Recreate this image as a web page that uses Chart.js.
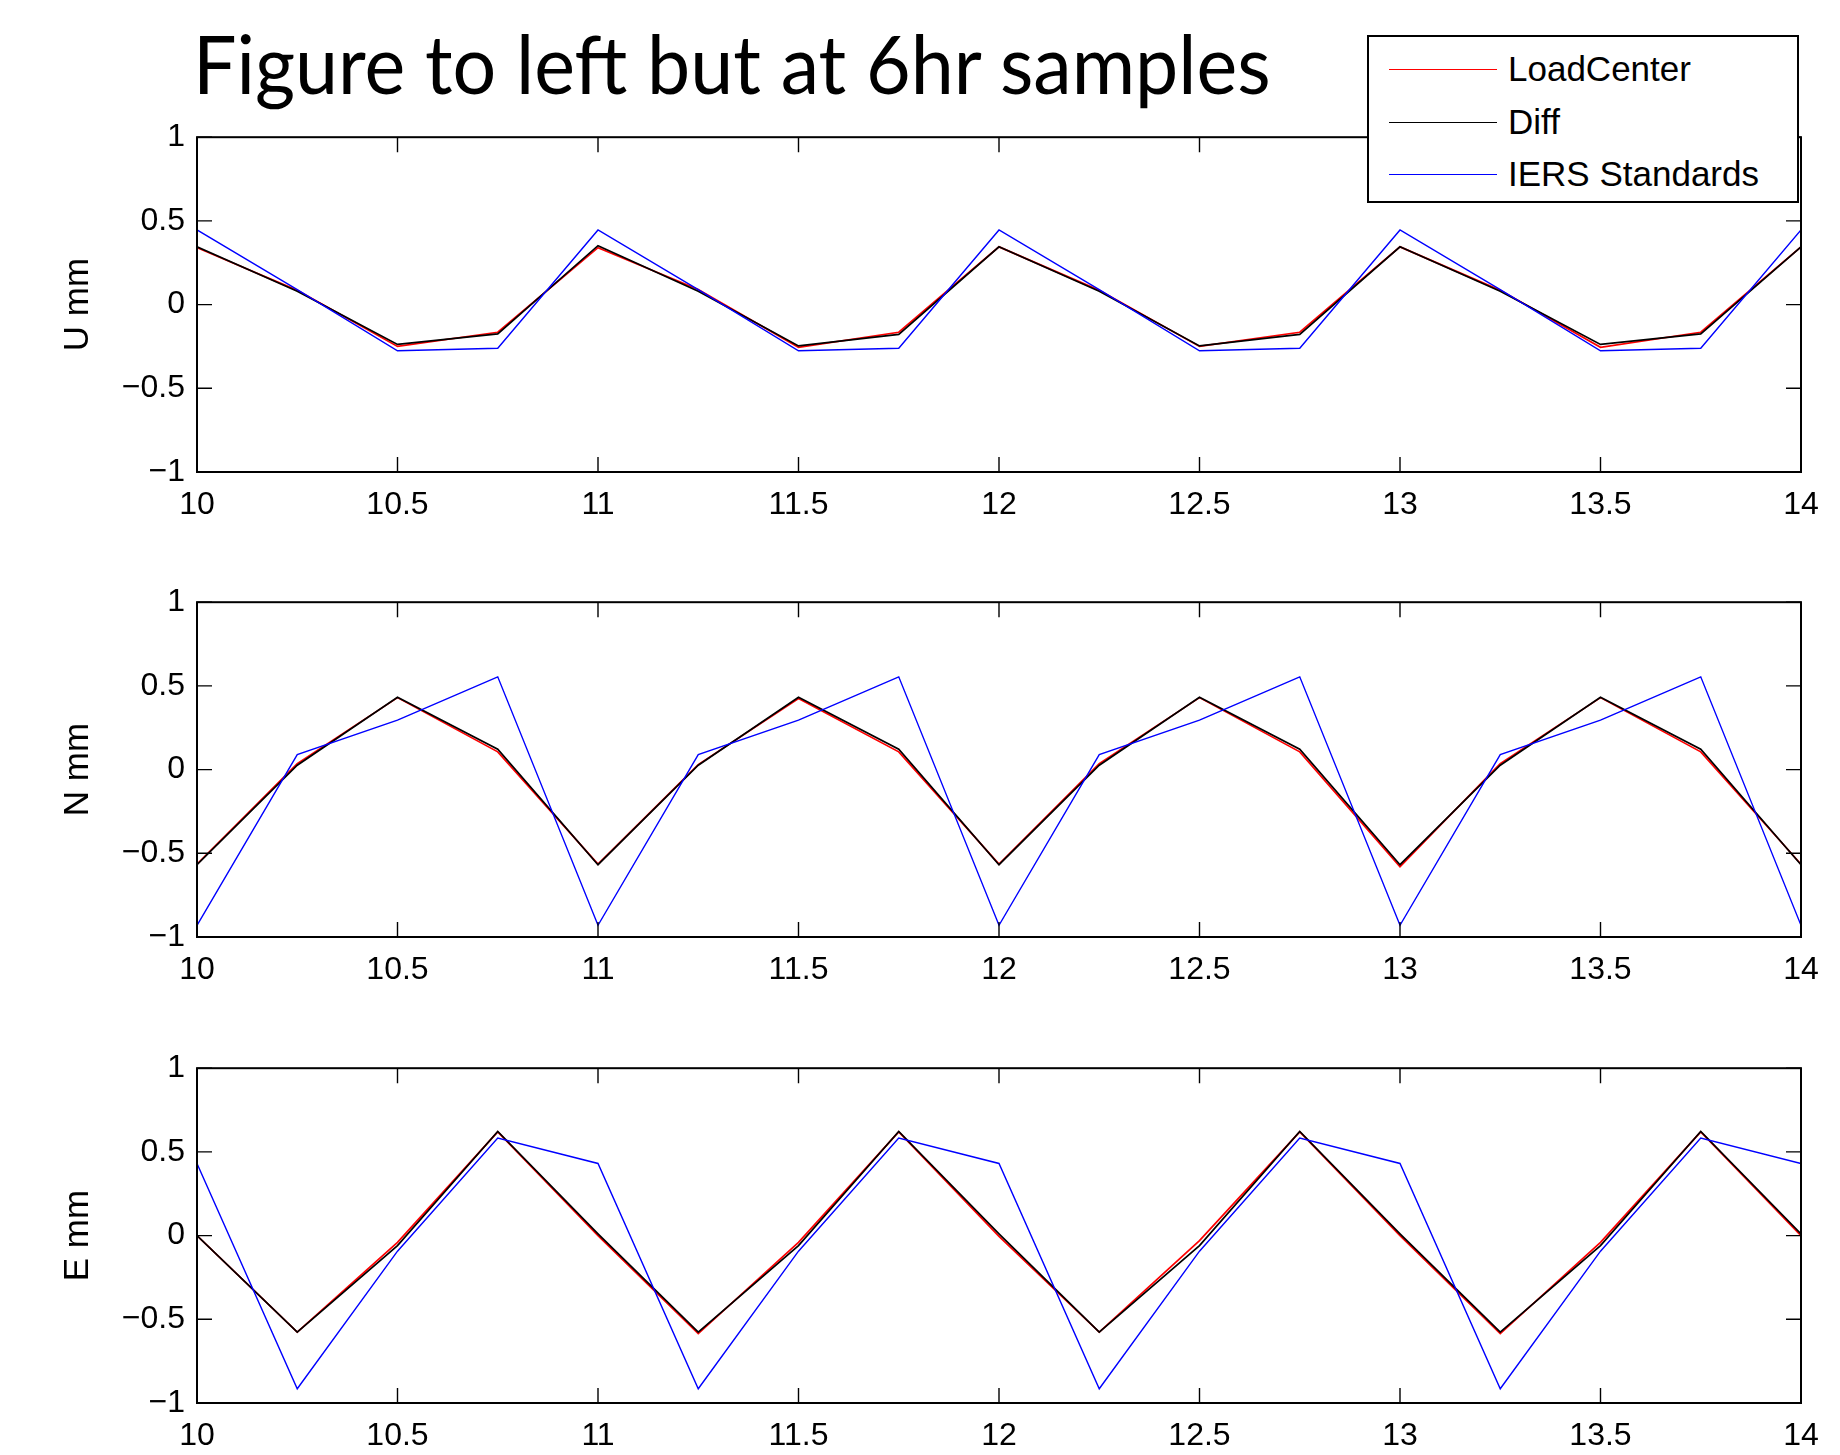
<!DOCTYPE html>
<html>
<head>
<meta charset="utf-8">
<script src="https://cdn.jsdelivr.net/npm/chart.js@4.4.1/dist/chart.umd.min.js"></script>
<style>
  html, body { margin: 0; padding: 0; background: #fff; }
  body { width: 1840px; height: 1455px; position: relative; overflow: hidden; }
  canvas { position: absolute; left: 0; }
  #title { position: absolute; left: 193px; top: 21px; font-family: Lato, "Open Sans", sans-serif; font-size: 82px; line-height: 82px; white-space: nowrap; transform-origin: 0 0; color: #000; }
  #legend { position: absolute; left: 1367px; top: 35px; width: 428px; height: 164px; border: 2px solid #000; background: #fff; font-family: "Liberation Sans", Arial, sans-serif; font-size: 35px; z-index: 5; }
  #legend .row { position: absolute; left: 0; height: 40px; }
  #legend .ln { position: absolute; left: 20px; width: 108px; height: 0; border-top: 1.5px solid; top: 20px; }
  #legend .tx { position: absolute; left: 139px; top: 0; line-height: 40px; white-space: nowrap; }
</style>
</head>
<body>
<div id="title">Figure to left but at 6hr samples</div>
<div id="legend"></div>
<canvas id="cU" width="1840" height="415" style="top:106px"></canvas>
<canvas id="cN" width="1840" height="415" style="top:571px"></canvas>
<canvas id="cE" width="1840" height="415" style="top:1037px"></canvas>
<script>
// days, 6 hour samples
var hours = [10, 10.25, 10.5, 10.75, 11, 11.25, 11.5, 11.75, 12, 12.25, 12.5, 12.75, 13, 13.25, 13.5, 13.75, 14];
var xTicks = [10, 10.5, 11, 11.5, 12, 12.5, 13, 13.5, 14];
var yTicks = [-1, -0.5, 0, 0.5, 1];

var seriesNames = ['LoadCenter', 'Diff', 'IERS Standards'];
var seriesColors = ['#ff0000', '#000000', '#0000ff'];

// U component
var loadU = [0.34, 0.085, -0.25, -0.165, 0.34, 0.09, -0.255, -0.165, 0.345, 0.085, -0.25, -0.165, 0.345, 0.085, -0.255, -0.165, 0.345];
var diffU = [0.345, 0.08, -0.238, -0.175, 0.352, 0.08, -0.247, -0.178, 0.345, 0.08, -0.247, -0.178, 0.345, 0.08, -0.238, -0.175, 0.345];
var iersU = [0.446, 0.09, -0.276, -0.261, 0.446, 0.09, -0.276, -0.261, 0.446, 0.09, -0.276, -0.261, 0.446, 0.09, -0.276, -0.261, 0.446];

// N component
var loadN = [-0.565, 0.036, 0.43, 0.106, -0.565, 0.03, 0.425, 0.106, -0.565, 0.036, 0.43, 0.106, -0.58, 0.036, 0.43, 0.106, -0.565];
var diffN = [-0.568, 0.026, 0.432, 0.122, -0.568, 0.026, 0.432, 0.122, -0.568, 0.026, 0.432, 0.122, -0.568, 0.026, 0.432, 0.122, -0.568];
var iersN = [-0.93, 0.09, 0.295, 0.554, -0.93, 0.09, 0.295, 0.554, -0.93, 0.09, 0.295, 0.554, -0.93, 0.09, 0.295, 0.554, -0.93];

// E component
var loadE = [0, -0.577, -0.04, 0.62, 0, -0.585, -0.04, 0.62, -0.005, -0.577, -0.03, 0.62, 0, -0.585, -0.04, 0.62, 0];
var diffE = [0, -0.577, -0.06, 0.622, 0.01, -0.577, -0.06, 0.622, 0.01, -0.577, -0.06, 0.622, 0.01, -0.577, -0.06, 0.622, 0.01];
var iersE = [0.431, -0.915, -0.093, 0.583, 0.431, -0.915, -0.093, 0.583, 0.431, -0.915, -0.093, 0.583, 0.431, -0.915, -0.093, 0.583, 0.431];

// title width fit (Calibri is not installed)
var t = document.getElementById('title');
t.style.transform = 'scaleX(' + (1078 / t.offsetWidth) + ')';

// legend
var leg = document.getElementById('legend');
seriesNames.forEach(function (name, i) {
    var row = document.createElement('div');
    row.className = 'row';
    row.style.top = (12 + i * 52.5) + 'px';
    row.innerHTML = '<div class="ln" style="border-color:' + seriesColors[i] + '"></div><div class="tx">' + name + '</div>';
    leg.appendChild(row);
});

// matlab style box with inward ticks on all sides
var boxPlugin = {
    id: 'box',
    afterDatasetsDraw: function (chart) {
        var ctx = chart.ctx, a = chart.chartArea, x = chart.scales.x, y = chart.scales.y;
        ctx.save();
        ctx.strokeStyle = '#000';
        ctx.lineWidth = 1.4;
        ctx.beginPath();
        xTicks.forEach(function (v) {
            var px = x.getPixelForValue(v);
            ctx.moveTo(px, a.bottom); ctx.lineTo(px, a.bottom - 15);
            ctx.moveTo(px, a.top); ctx.lineTo(px, a.top + 15);
        });
        yTicks.forEach(function (v) {
            var py = y.getPixelForValue(v);
            ctx.moveTo(a.left, py); ctx.lineTo(a.left + 15, py);
            ctx.moveTo(a.right, py); ctx.lineTo(a.right - 15, py);
        });
        ctx.stroke();
        ctx.lineWidth = 2;
        ctx.strokeRect(a.left, a.top, a.right - a.left, a.bottom - a.top);
        ctx.restore();
    }
};

function pts(vals) {
    return hours.map(function (h, i) { return { x: h, y: vals[i] }; });
}

function makeChart(id, label, load, diff, iers) {
    var series = [load, diff, iers];
    new Chart(document.getElementById(id).getContext('2d'), {
        type: 'line',
        data: {
            datasets: series.map(function (s, i) {
                return {
                    label: seriesNames[i],
                    data: pts(s),
                    borderColor: seriesColors[i],
                    borderWidth: i === 2 ? 1.4 : 1.7,
                    pointRadius: 0,
                    tension: 0,
                    order: 3 - i
                };
            })
        },
        options: {
            responsive: false,
            animation: false,
            devicePixelRatio: 1,
            layout: { padding: { top: 0, left: 0, right: 39, bottom: 0 } },
            plugins: { legend: { display: false }, tooltip: { enabled: false } },
            scales: {
                x: {
                    type: 'linear', min: 10, max: 14,
                    grid: { display: false, drawTicks: false },
                    border: { display: false },
                    ticks: {
                        stepSize: 0.5, autoSkip: false, maxRotation: 0, padding: 14,
                        color: '#000', font: { family: 'Liberation Sans', size: 32 },
                        callback: function (v) { return String(v); }
                    },
                    afterFit: function (s) { s.height = 49; }
                },
                y: {
                    min: -1, max: 1,
                    grid: { display: false, drawTicks: false },
                    border: { display: false },
                    ticks: {
                        stepSize: 0.5, padding: 12,
                        color: '#000', font: { family: 'Liberation Sans', size: 32 },
                        callback: function (v) { return String(v).replace('-', '\u2212'); }
                    },
                    title: {
                        display: true, text: label, color: '#000',
                        font: { family: 'Liberation Sans', size: 35 },
                        padding: { top: 57, bottom: 0 }
                    },
                    afterFit: function (s) { s.width = 197; }
                }
            }
        },
        plugins: [boxPlugin]
    });
}

makeChart('cU', 'U mm', loadU, diffU, iersU);
makeChart('cN', 'N mm', loadN, diffN, iersN);
makeChart('cE', 'E mm', loadE, diffE, iersE);
</script>
</body>
</html>
